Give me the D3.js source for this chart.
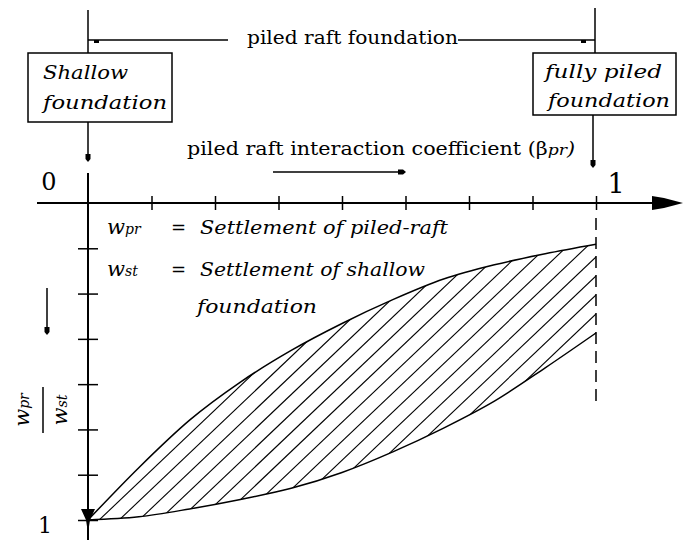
<!DOCTYPE html>
<html>
<head>
<meta charset="utf-8">
<script src="https://cdn.jsdelivr.net/npm/d3@7"></script>
<style>
  body { margin: 0; background: #fff; }
  svg { display: block; }
  text { font-family: "DejaVu Serif", serif; fill: #000; }
  .it { font-style: italic; }
</style>
</head>
<body>
<svg id="chart" width="683" height="540"></svg>
<script>
// beta_pr along the horizontal axis, w_pr/w_st downward
const beta   = [0, 0.1, 0.2, 0.3, 0.4, 0.5, 0.6, 0.7, 0.8, 0.9, 1];
const wUpper = [1, 0.835, 0.685, 0.565, 0.465, 0.38, 0.305, 0.24, 0.195, 0.16, 0.13];
const wLower = [1, 0.99, 0.965, 0.935, 0.9, 0.85, 0.785, 0.71, 0.625, 0.52, 0.41];
const xTicks = [1/8, 2/8, 3/8, 4/8, 5/8, 6/8, 7/8, 1];
const yTicks = [1/7, 2/7, 3/7, 4/7, 5/7, 6/7, 1];
const xLabels = ["0", "1"];
const yLabels = ["1"];

const svg = d3.select("#chart");
const x = d3.scaleLinear().domain([0, 1]).range([88, 596]);
const y = d3.scaleLinear().domain([0, 1]).range([203, 520]);
const pts = beta.map((b, i) => ({b: b, up: wUpper[i], lo: wLower[i]}));

function arrowDown(cx, cy){
  svg.append("path").attr("d", `M${cx-2.5},${cy-6}L${cx+2.5},${cy-6}L${cx+2.5},${cy-1}L${cx},${cy+2}L${cx-2.5},${cy-1}Z`).attr("fill", "#000");
}
function arrowRight(cx, cy){
  svg.append("path").attr("d", `M${cx-6},${cy-2.5}L${cx-1},${cy-2.5}L${cx+2},${cy}L${cx-1},${cy+2.5}L${cx-6},${cy+2.5}Z`).attr("fill", "#000");
}
// text stretched to the width it has in the drawing
function label(px, py, size, str, w, italic){
  const t = svg.append("text").attr("x", px).attr("y", py).attr("font-size", size).text(str);
  if (italic) t.attr("class", "it");
  if (w) t.attr("textLength", w).attr("lengthAdjust", "spacingAndGlyphs");
  return t;
}

// hatched band between the curves
const area = d3.area().x(d => x(d.b)).y0(d => y(d.lo)).y1(d => y(d.up)).curve(d3.curveMonotoneX);
svg.append("clipPath").attr("id", "band").append("path").attr("d", area(pts));
const hatch = svg.append("g").attr("clip-path", "url(#band)");
const yEnd = y(wLower[wLower.length - 1]);
const slope = 0.95, gap = 19;
for (let k = -10; k < 40; k++) {
  const y0 = yEnd - k * gap;
  hatch.append("line")
    .attr("x1", x(0)).attr("y1", y0 + slope * (x(1) - x(0)))
    .attr("x2", x(1)).attr("y2", y0)
    .attr("stroke", "#000").attr("stroke-width", 1.1);
}
const line = d3.line().x(d => x(d.b)).curve(d3.curveMonotoneX);
svg.append("path").attr("d", line.y(d => y(d.up))(pts)).attr("fill", "none").attr("stroke", "#000").attr("stroke-width", 1.5);
svg.append("path").attr("d", line.y(d => y(d.lo))(pts)).attr("fill", "none").attr("stroke", "#000").attr("stroke-width", 1.5);

// dashed limit at beta = 1
svg.append("line").attr("x1", x(1)).attr("x2", x(1)).attr("y1", 218).attr("y2", 405)
  .attr("stroke", "#000").attr("stroke-width", 1.5).attr("stroke-dasharray", "12,7");

// axes
svg.append("line").attr("x1", 37).attr("x2", 655).attr("y1", y(0)).attr("y2", y(0)).attr("stroke", "#000").attr("stroke-width", 2);
svg.append("path").attr("d", "M652,196L664,198L683,203L664,208L652,210Z").attr("fill", "#000");
svg.append("line").attr("x1", x(0)).attr("x2", x(0)).attr("y1", 173).attr("y2", 540).attr("stroke", "#000").attr("stroke-width", 2);
svg.append("path").attr("d", `M${x(0)-7},509L${x(0)+7},509L${x(0)+2},520L${x(0)},533L${x(0)-2},520Z`).attr("fill", "#000");

const gx = svg.append("g").attr("transform", `translate(0,${y(0)})`)
  .call(d3.axisBottom(x).tickValues(xTicks).tickFormat(""));
gx.select(".domain").remove();
gx.selectAll(".tick line").attr("y1", -7).attr("y2", 7).attr("stroke-width", 1.5);

const gy = svg.append("g").attr("transform", `translate(${x(0)},0)`)
  .call(d3.axisLeft(y).tickValues(yTicks).tickFormat(""));
gy.select(".domain").remove();
gy.selectAll(".tick line").attr("x1", -10).attr("x2", 10).attr("stroke-width", 1.5);

label(49, 190, 24, xLabels[0]).attr("text-anchor", "middle");
label(616, 193, 27, xLabels[1]).attr("text-anchor", "middle");
label(45, 533, 22, yLabels[0]).attr("text-anchor", "middle");

// top bracket: piled raft foundation
svg.append("line").attr("x1", x(0)).attr("x2", x(0)).attr("y1", 10).attr("y2", 53).attr("stroke", "#000").attr("stroke-width", 1.5);
svg.append("line").attr("x1", 595).attr("x2", 595).attr("y1", 8).attr("y2", 53).attr("stroke", "#000").attr("stroke-width", 1.5);
svg.append("line").attr("x1", x(0)).attr("x2", 228).attr("y1", 40).attr("y2", 40).attr("stroke", "#000").attr("stroke-width", 1.5);
svg.append("line").attr("x1", 458).attr("x2", 595).attr("y1", 40).attr("y2", 40).attr("stroke", "#000").attr("stroke-width", 1.5);
svg.append("rect").attr("x", 94).attr("y", 40).attr("width", 5).attr("height", 3);
svg.append("rect").attr("x", 581).attr("y", 40).attr("width", 5).attr("height", 3);
label(247, 44, 18, "piled raft foundation", 211);

// boxes
svg.append("rect").attr("x", 28).attr("y", 53).attr("width", 144).attr("height", 69).attr("fill", "none").attr("stroke", "#000").attr("stroke-width", 1.5);
svg.append("rect").attr("x", 533).attr("y", 53).attr("width", 143).attr("height", 62).attr("fill", "none").attr("stroke", "#000").attr("stroke-width", 1.5);
label(43, 79, 19, "Shallow", 85, true);
label(43, 109, 19, "foundation", 124, true);
label(545, 78, 18, "fully piled", 117, true);
label(548, 107, 18, "foundation", 122, true);

// connectors from boxes to axis
svg.append("line").attr("x1", x(0)).attr("x2", x(0)).attr("y1", 122).attr("y2", 158).attr("stroke", "#000").attr("stroke-width", 1.5);
arrowDown(x(0), 160);
svg.append("line").attr("x1", 593).attr("x2", 593).attr("y1", 115).attr("y2", 163).attr("stroke", "#000").attr("stroke-width", 1.5);
arrowDown(593, 166);

// axis title with direction arrow
const t = svg.append("text").attr("x", 187).attr("y", 155).attr("font-size", 18)
  .attr("textLength", 388).attr("lengthAdjust", "spacingAndGlyphs");
t.append("tspan").text("piled raft interaction coefficient (\u03b2");
t.append("tspan").attr("class", "it").attr("font-size", 15).text("pr");
t.append("tspan").attr("class", "it").text(")");
svg.append("line").attr("x1", 273).attr("x2", 402).attr("y1", 172).attr("y2", 172).attr("stroke", "#000").attr("stroke-width", 1.5);
arrowRight(404, 172);

// legend
function wsym(sel, sub){
  sel.append("tspan").attr("class", "it").attr("font-size", 21).text("w");
  sel.append("tspan").attr("class", "it").attr("font-size", 14).text(sub);
}
const l1 = svg.append("text").attr("x", 107).attr("y", 234);
wsym(l1, "pr");
label(171, 234, 18, "=");
label(200, 234, 18, "Settlement of piled-raft", 248, true);
const l2 = svg.append("text").attr("x", 107).attr("y", 276);
wsym(l2, "st");
label(171, 276, 18, "=");
label(200, 276, 18, "Settlement of shallow", 225, true);
label(197, 313, 18, "foundation", 120, true);

// vertical axis title: w_pr / w_st, rotated
const ya = svg.append("g").attr("transform", "translate(43,410) rotate(-90)");
const num = ya.append("text").attr("x", 0).attr("y", -14).attr("text-anchor", "middle");
wsym(num, "pr");
const den = ya.append("text").attr("x", 0).attr("y", 24).attr("text-anchor", "middle");
wsym(den, "st");
ya.append("line").attr("x1", -23).attr("x2", 23).attr("y1", 0).attr("y2", 0).attr("stroke", "#000").attr("stroke-width", 1.5);
svg.append("line").attr("x1", 47).attr("x2", 47).attr("y1", 288).attr("y2", 330).attr("stroke", "#000").attr("stroke-width", 1.5);
arrowDown(47, 333);
</script>
</body>
</html>
